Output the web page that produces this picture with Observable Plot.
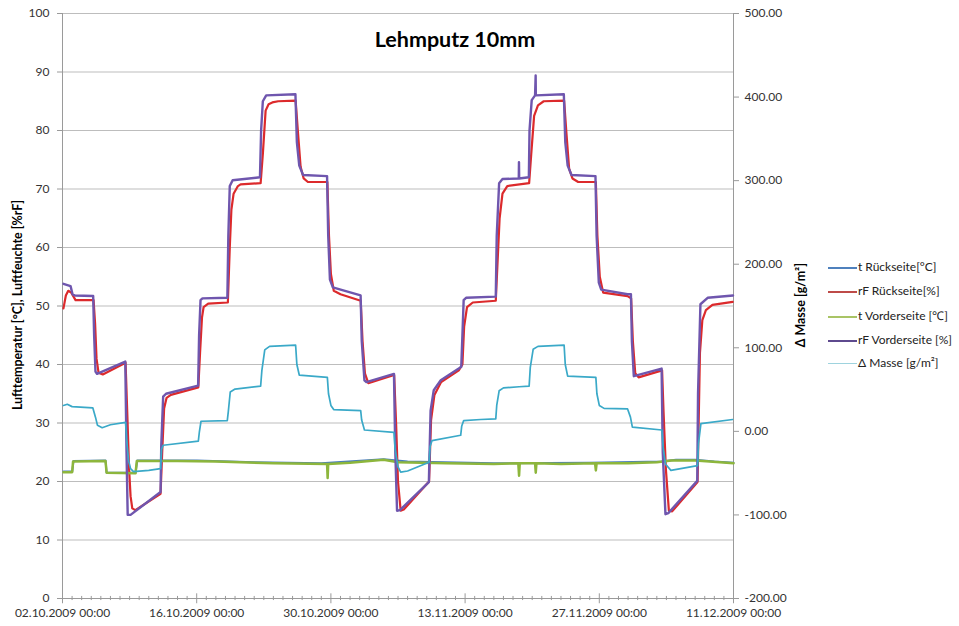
<!DOCTYPE html>
<html><head><meta charset="utf-8">
<script src="https://cdn.jsdelivr.net/npm/d3@7"></script>
<script src="https://cdn.jsdelivr.net/npm/@observablehq/plot@0.6"></script>
<style>
body{margin:0;background:#fff;font-family:Lato,"Open Sans",sans-serif;}
#wrap{position:relative;width:959px;height:626px;overflow:hidden;background:#fff;}
#chart{position:absolute;left:0;top:0;}
.title{position:absolute;left:305px;width:300px;top:27px;text-align:center;font-weight:bold;font-size:21.5px;line-height:24px;color:#000;}
.vlab{position:absolute;transform:translate(-50%,-50%) rotate(-90deg);white-space:nowrap;font-weight:bold;font-size:12.4px;color:#000;}
.leg{position:absolute;left:828px;font-size:12px;color:#222;white-space:nowrap;line-height:14px;}
.leg span.sw{display:inline-block;width:29px;vertical-align:middle;margin-right:1px;}
</style></head><body>
<div id="wrap">
<div id="chart"></div>
<div class="title">Lehmputz 10mm</div>
<div class="vlab" style="left:17px;top:305px;">Lufttemperatur [°C], Luftfeuchte [%rF]</div>
<div class="vlab" style="left:800px;top:305px;">Δ Masse [g/m²]</div>
<div id="legend"></div>
</div>
<script>
// ---- data (days since 02.10.2009 00:00) ----
const startDate = Date.UTC(2009, 9, 2);
const seriesNames = ["t Rückseite[°C]", "rF Rückseite[%]", "t Vorderseite [℃]", "rF Vorderseite [%]", "Δ Masse [g/m²]"];
const seriesColors = ["#4A7DBB", "#DC2A2C", "#8DB63C", "#6F56AE", "#3AA9C8"];
const legendColors = ["#4F81BD", "#BE4B48", "#A9C465", "#5E4A8E", "#9ED3DE"];

const leftTicks = [0, 10, 20, 30, 40, 50, 60, 70, 80, 90, 100];
const rightTicks = [-200, -100, 0, 100, 200, 300, 400, 500];
const dateTickDays = [0, 14, 28, 42, 56, 70];
const minorTickDays = [1,2,3,4,5,6,7,8,9,10,11,12,13,15,16,17,18,19,20,21,22,23,24,25,26,27,29,30,31,32,33,34,35,36,37,38,39,40,41,43,44,45,46,47,48,49,50,51,52,53,54,55,57,58,59,60,61,62,63,64,65,66,67,68,69];

const rfVordDay = [0.10,0.84,1.05,1.30,3.20,3.30,3.44,3.60,6.55,6.68,6.80,7.10,10.23,10.30,10.50,10.80,14.15,14.25,14.40,14.60,17.20,17.30,17.45,17.75,20.60,20.72,20.90,21.25,24.30,24.45,24.70,25.10,27.60,27.72,27.90,28.20,31.10,31.22,31.50,31.70,34.58,34.72,34.90,35.20,38.22,38.40,38.73,39.46,41.34,41.60,41.72,41.85,42.10,45.20,45.30,45.55,45.90,47.60,47.62,47.64,48.65,48.72,48.95,49.30,49.36,49.38,52.30,52.45,52.70,53.10,55.60,55.72,55.95,56.20,58.95,59.30,59.40,59.60,62.50,62.62,62.90,63.20,66.22,66.30,66.55,67.30,69.95];
const rfVordVal = [53.8,53.4,52.0,51.8,51.7,45,38.8,38.4,40.5,25,14.3,14.3,18.2,26,34.5,35.0,36.4,45,51.0,51.3,51.4,62,70.5,71.5,72.0,80,85.0,86.0,86.2,78,74.0,72.4,72.2,62,54.5,53.2,51.8,44,37.3,37.0,38.4,25,15.0,15.1,19.9,32.1,35.6,37.3,39.3,39.6,45,51.0,51.4,51.6,62,71.0,71.7,71.8,74.6,71.8,72.0,80,85.2,86.0,89.4,86.0,86.2,78,74.0,72.4,72.2,62,54.0,52.8,52.0,52.0,44,38.0,39.3,25,14.4,14.6,20.1,35,50.3,51.4,51.8];

const rfRueckDay = [0.10,0.35,0.60,0.90,1.36,3.24,3.40,3.55,3.76,4.20,6.58,6.75,6.95,7.10,7.28,7.60,10.23,10.40,10.60,10.86,11.30,14.17,14.35,14.55,14.72,15.20,17.25,17.45,17.62,17.85,18.30,18.58,20.67,20.90,21.19,21.50,21.89,22.50,24.32,24.55,24.84,25.16,25.60,27.63,27.80,28.00,28.30,29.00,31.11,31.30,31.55,31.90,34.60,34.80,35.00,35.28,35.60,38.24,38.45,38.80,39.50,41.34,41.72,41.90,42.20,42.80,45.20,45.40,45.60,45.90,46.40,48.68,48.90,49.20,49.60,50.20,52.33,52.55,52.85,53.20,53.80,55.64,55.80,56.05,56.40,58.95,59.32,59.50,59.75,60.10,62.55,62.70,62.95,63.26,63.60,66.25,66.32,66.50,66.75,67.12,67.80,69.91];
const rfRueckVal = [49.6,51.8,52.6,52.3,51.0,51.0,47,41,38.6,38.3,40.3,32,22,17.5,15.4,15.1,17.9,25,32.5,34.3,34.8,36.1,42,48.0,49.8,50.4,50.6,60,66.5,69.2,70.5,70.8,71.0,76,83.4,84.5,84.8,85.0,85.1,80,73.8,71.8,71.2,71.2,62,55.5,52.6,52.0,50.9,44,38.5,36.8,38.2,30,20,15.0,15.2,20.0,30.5,34.8,37.0,39.0,40,46.5,49.8,50.6,50.9,58,65,69.2,70.5,71.0,76,82.5,84.3,85.0,85.1,80,73.5,71.8,71.2,71.2,62,55,52.3,51.7,51.3,44,38.5,37.8,39.0,32,22,15.0,14.9,19.9,26,42,47.6,49.3,50.2,50.7];

const tVordDay = [0.10,1.01,1.10,4.49,4.60,7.62,7.75,12,16,22,27.60,27.66,27.72,30,33.5,35,40,45,47.55,47.63,47.70,49.30,49.37,49.44,52,55.56,55.64,55.72,59,62,63.5,66,67.5,70];
const tVordVal = [21.6,21.6,23.4,23.5,21.5,21.4,23.5,23.5,23.4,23.1,23.0,20.6,23.0,23.2,23.7,23.3,23.1,23.0,23.1,21.0,23.1,23.1,21.5,23.1,23.0,23.1,21.9,23.1,23.1,23.3,23.6,23.6,23.4,23.1];

const tRueckDay = [0.10,1.01,1.15,4.49,4.60,7.62,7.80,14,20,27,33.5,36,45,55,62.5,64,66,68,70];
const tRueckVal = [21.7,21.7,23.5,23.6,21.5,21.5,23.6,23.6,23.3,23.1,23.8,23.4,23.1,23.2,23.4,23.7,23.7,23.4,23.2];

const masseDay = [0.10,0.50,1.00,3.16,3.44,3.65,4.14,5.00,6.58,6.70,6.90,7.10,7.41,9.00,10.23,10.33,10.50,14.17,14.28,14.45,17.19,17.30,17.50,18.00,20.67,20.80,21.10,21.60,24.32,24.45,24.70,27.63,27.75,28.00,28.29,31.11,31.21,31.50,34.58,34.70,35.00,35.28,36.00,38.24,38.35,38.55,41.54,41.65,41.85,43.63,45.20,45.30,45.55,46.00,47.63,48.68,48.80,49.10,49.60,52.33,52.45,52.70,55.64,55.75,56.00,56.50,58.95,59.25,59.45,62.53,62.65,62.90,63.47,66.25,66.35,66.60,69.91];
const masseVal = [31,32.4,29.6,28.2,17,7.2,4.4,7.9,10.7,-11,-35.5,-44.6,-48.1,-46.7,-44.6,-21.5,-16.6,-11.7,-0.5,12.1,12.8,24,47.1,50.6,54.1,73,97.5,101.7,103.1,80,67.4,64.6,45,31,26.1,24.7,13.5,1.6,-1.2,-21.5,-42.5,-48.8,-47.4,-36.9,-18,-11,-4.7,6.5,12.8,14.2,14.9,31,48.5,52,53.4,54.1,76.5,98.2,101.7,103.1,80,66,64.6,45,31,27.5,26.8,17,5.1,1.6,-18,-39,-46.7,-41.1,-14.5,9.3,14.2];

// ---- build ----
const toDate = d => new Date(startDate + d * 864e5);
const toLeft = r => (r + 200) / 7;   // secondary axis (-200..500) onto primary (0..100)
const mk = (days, vals, f = v => v) => days.map((d, i) => ({t: toDate(d), v: f(vals[i])}));

const sTR = mk(tRueckDay, tRueckVal);
const sRR = mk(rfRueckDay, rfRueckVal);
const sTV = mk(tVordDay, tVordVal);
const sRV = mk(rfVordDay, rfVordVal);
const sM = mk(masseDay, masseVal, toLeft);

const fmtDate = d3.utcFormat("%d.%m.%Y %H:%M");
const axisGrey = "#9a9a9a";

const chart = Plot.plot({
  width: 959, height: 626,
  marginTop: 13, marginBottom: 28, marginLeft: 62, marginRight: 226,
  style: {fontFamily: "Lato, 'Open Sans', sans-serif", fontSize: "12px", color: "#333", background: "#fff"},
  x: {type: "utc", domain: [toDate(0), toDate(70)]},
  y: {domain: [0, 100]},
  marks: [
    Plot.gridY(leftTicks, {stroke: "#bdbdbd", strokeOpacity: 1}),
    Plot.axisY(leftTicks, {anchor: "left", tickSize: 5, tickPadding: 8, stroke: axisGrey, label: null, fill: "#333", fontSize: 12}),
    Plot.axisY(rightTicks.map(toLeft), {anchor: "right", tickSize: 5, tickPadding: 6, stroke: axisGrey, label: null, fill: "#333", fontSize: 12,
      tickFormat: d => Math.round(d * 7 - 200).toFixed(2)}),
    Plot.axisX(dateTickDays.map(toDate), {anchor: "bottom", tickSize: 0, tickPadding: 10, label: null, fill: "#333", fontSize: 12, tickFormat: fmtDate}),
    Plot.ruleX([toDate(0), toDate(70)], {stroke: axisGrey}),
    Plot.ruleY([0], {stroke: axisGrey}),
    Plot.ruleX(minorTickDays.map(toDate), {y1: -0.35, y2: 0.35, stroke: axisGrey}),
    Plot.ruleX(dateTickDays.map(toDate), {y1: -0.9, y2: 0.8, stroke: axisGrey}),
    Plot.line(sTR, {x: "t", y: "v", stroke: seriesColors[0], strokeWidth: 2}),
    Plot.line(sRR, {x: "t", y: "v", stroke: seriesColors[1], strokeWidth: 2.2}),
    Plot.line(sTV, {x: "t", y: "v", stroke: seriesColors[2], strokeWidth: 2.5}),
    Plot.line(sRV, {x: "t", y: "v", stroke: seriesColors[3], strokeWidth: 2.4}),
    Plot.line(sM, {x: "t", y: "v", stroke: seriesColors[4], strokeWidth: 1.7})
  ]
});
document.getElementById("chart").appendChild(chart);

// legend
const legTops = [267, 291, 316, 340, 363];
const lg = document.getElementById("legend");
seriesNames.forEach((n, i) => {
  const div = document.createElement("div");
  div.className = "leg";
  div.style.top = (legTops[i] - 7) + "px";
  const sw = document.createElement("span");
  sw.className = "sw";
  sw.style.borderTop = (i === 4 ? 1.5 : 2.5) + "px solid " + legendColors[i];
  div.appendChild(sw);
  div.appendChild(document.createTextNode(n));
  lg.appendChild(div);
});
</script>
</body></html>
